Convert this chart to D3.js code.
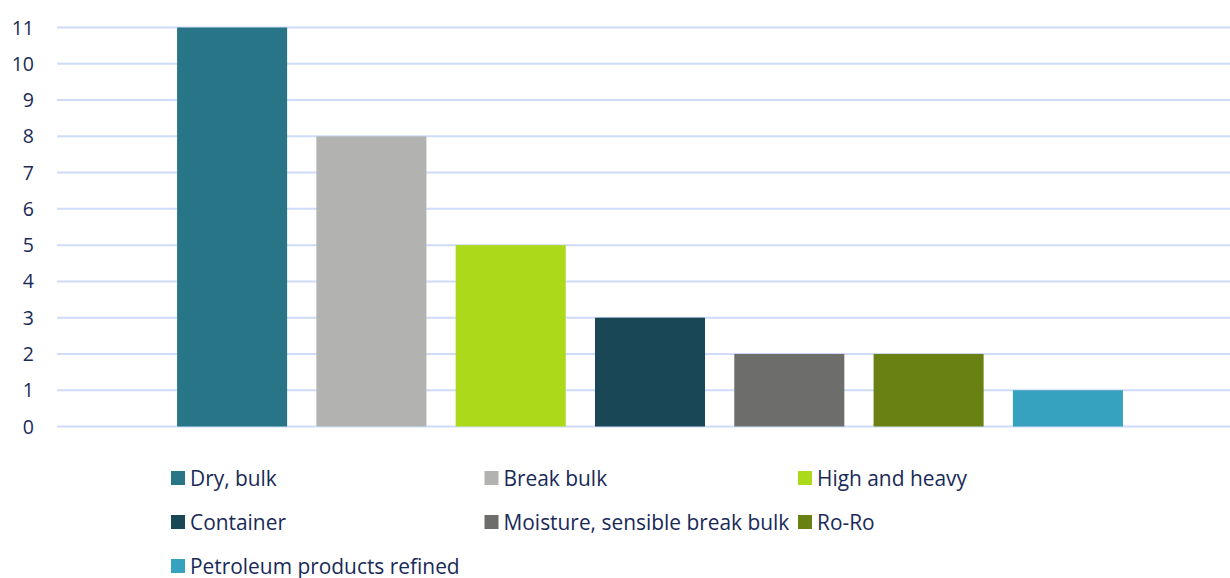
<style>
  body { margin: 0; }
</style>
<svg id="container" width="1230" height="578"></svg>

<script src="https://d3js.org/d3.v7.min.js"></script>
<script>
  // chart values
  const categories = ['Dry, bulk', 'Break bulk', 'High and heavy', 'Container', 'Moisture, sensible break bulk', 'Ro-Ro', 'Petroleum products refined']
  const values = [11, 8, 5, 3, 2, 2, 1]
  const colors = ['#277587', '#b2b2b1', '#acd91a', '#1a4756', '#6d6d6c', '#688112', '#37a2bf']
  const yTicks = [0, 1, 2, 3, 4, 5, 6, 7, 8, 9, 10, 11]

  const svg = d3.select('#container')
    .style('background', '#fff')
    .style('display', 'block')
    .style('font-family', '"Open Sans", sans-serif')

  // plot area runs a bit past the right edge, like the original
  const xScale = d3.scaleBand()
    .domain(categories)
    .range([57, 1243])
    .paddingInner(0.21)
    .paddingOuter(0.862)

  const yScale = d3.scaleLinear()
    .domain([0, 11])
    .range([426.5, 27.5])

  // gridlines
  svg.append('g')
    .selectAll('line')
    .data(yTicks)
    .enter()
    .append('line')
    .attr('x1', 57)
    .attr('x2', 1230)
    .attr('y1', d => yScale(d))
    .attr('y2', d => yScale(d))
    .attr('stroke', '#cfdcf9')
    .attr('stroke-width', 2)

  // y axis labels
  svg.append('g')
    .selectAll('text')
    .data(yTicks)
    .enter()
    .append('text')
    .attr('x', 34)
    .attr('y', d => yScale(d))
    .attr('dy', '0.36em')
    .attr('text-anchor', 'end')
    .attr('font-size', 19.5)
    .attr('fill', '#1a2a58')
    .text(d => d)

  // bars
  svg.append('g')
    .selectAll('rect')
    .data(values)
    .enter()
    .append('rect')
    .attr('x', (d, i) => xScale(categories[i]))
    .attr('width', xScale.bandwidth())
    .attr('y', d => yScale(d))
    .attr('height', d => yScale(0) - yScale(d))
    .style('fill', (d, i) => colors[i])

  // legend, three per row
  const legend = svg.append('g')
    .selectAll('g')
    .data(categories)
    .enter()
    .append('g')
    .attr('transform', (d, i) => `translate(${171 + (i % 3) * 313.5},${478 + Math.floor(i / 3) * 44})`)

  legend.append('rect')
    .attr('x', 0)
    .attr('y', -7)
    .attr('width', 14)
    .attr('height', 14)
    .style('fill', (d, i) => colors[i])

  legend.append('text')
    .attr('x', 19)
    .attr('dy', '0.36em')
    .attr('font-size', 20.9)
    .attr('fill', '#1a2a58')
    .text(d => d)
</script>
